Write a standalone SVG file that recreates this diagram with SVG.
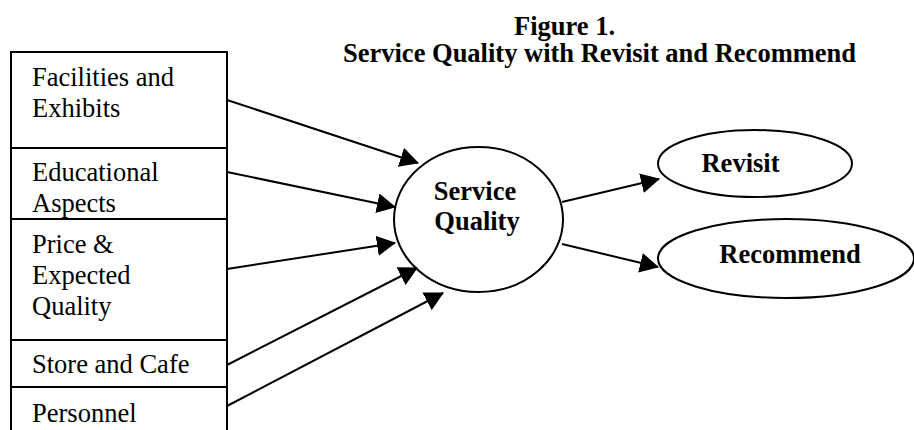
<svg xmlns="http://www.w3.org/2000/svg" width="914" height="430" viewBox="0 0 914 430">
  <style>
    .box { fill: #fff; stroke: #000; stroke-width: 2; }
    .oval { fill: #fff; stroke: #000; stroke-width: 2; }
    .lbl { font-family: "Liberation Serif", "Times New Roman", serif; font-size: 26.5px; fill: #000; }
    .bold { font-weight: bold; }
    .conn { stroke: #000; stroke-width: 2; fill: none; marker-end: url(#head); }
  </style>
  <defs>
    <marker id="head" viewBox="0 0 19 20" refX="18" refY="10" markerWidth="19" markerHeight="20" markerUnits="userSpaceOnUse" orient="auto">
      <path d="M0,0 L19,10 L0,20 Z" fill="#000"/>
    </marker>
  </defs>
  <rect width="914" height="430" fill="#fff"/>

  <!-- heading -->
  <g id="title" class="lbl bold">
    <text x="514" y="35">Figure 1.</text>
    <text x="343" y="62">Service Quality with Revisit and Recommend</text>
  </g>

  <!-- input factors (stacked boxes) -->
  <g id="facilities">
    <rect class="box" x="11" y="52" width="216" height="96"/>
    <text class="lbl" x="32" y="86">Facilities and</text>
    <text class="lbl" x="32" y="117">Exhibits</text>
  </g>
  <g id="educational">
    <rect class="box" x="11" y="148" width="216" height="76"/>
    <text class="lbl" x="32" y="181">Educational</text>
    <text class="lbl" x="32" y="212">Aspects</text>
  </g>
  <g id="price">
    <rect class="box" x="11" y="219" width="216" height="121"/>
    <text class="lbl" x="32" y="253">Price &amp;</text>
    <text class="lbl" x="32" y="284">Expected</text>
    <text class="lbl" x="32" y="315">Quality</text>
  </g>
  <g id="store">
    <rect class="box" x="11" y="340" width="216" height="47"/>
    <text class="lbl" x="32" y="373">Store and Cafe</text>
  </g>
  <g id="personnel">
    <rect class="box" x="11" y="387" width="216" height="60"/>
    <text class="lbl" x="32" y="422">Personnel</text>
  </g>

  <!-- central construct -->
  <g id="service-quality">
    <ellipse class="oval" cx="478.5" cy="219.5" rx="84.5" ry="72.5"/>
    <text class="lbl bold" x="475" y="200" text-anchor="middle">Service</text>
    <text class="lbl bold" x="477" y="230" text-anchor="middle">Quality</text>
  </g>

  <!-- outcomes -->
  <g id="revisit">
    <ellipse class="oval" cx="755" cy="163.5" rx="97" ry="33.5"/>
    <text class="lbl bold" x="740.5" y="172" text-anchor="middle">Revisit</text>
  </g>
  <g id="recommend">
    <ellipse class="oval" cx="786" cy="258.5" rx="128" ry="39.5"/>
    <text class="lbl bold" x="790" y="263" text-anchor="middle">Recommend</text>
  </g>

  <!-- paths -->
  <g id="connectors">
    <line class="conn" x1="227" y1="100" x2="418" y2="163"/>
    <line class="conn" x1="227" y1="172" x2="395" y2="207"/>
    <line class="conn" x1="227" y1="269" x2="395" y2="243"/>
    <line class="conn" x1="227" y1="365" x2="417" y2="268"/>
    <line class="conn" x1="227" y1="406" x2="443" y2="293"/>
    <line class="conn" x1="562" y1="202" x2="659" y2="179"/>
    <line class="conn" x1="562" y1="244" x2="658" y2="267"/>
  </g>
</svg>
